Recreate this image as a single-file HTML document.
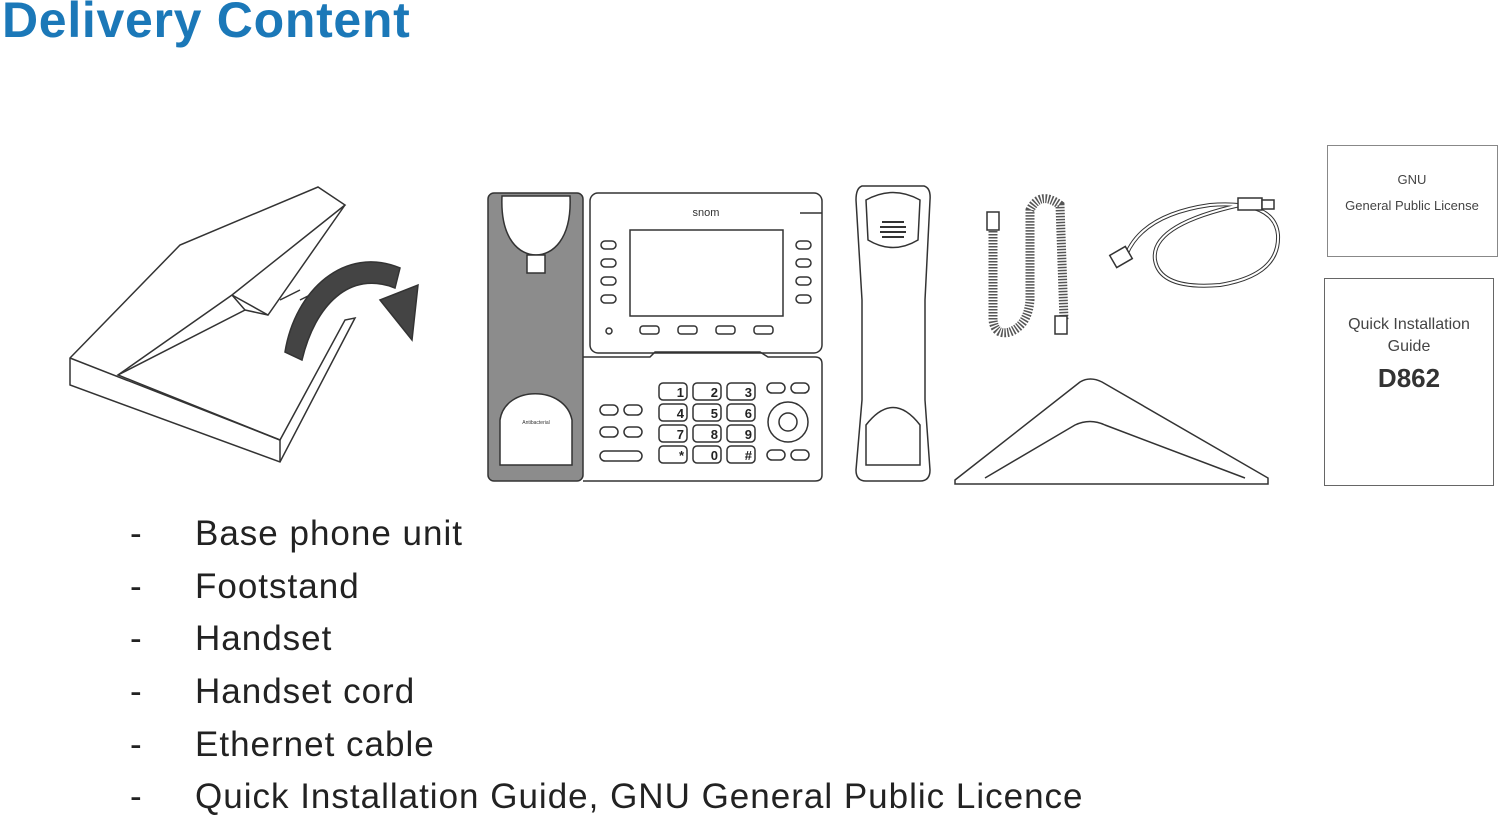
<!DOCTYPE html>
<html><head><meta charset="utf-8"><style>
body{margin:0;width:1500px;height:816px;background:#fff;position:relative;overflow:hidden;font-family:"Liberation Sans",sans-serif}
h1{position:absolute;left:2px;top:-9px;margin:0;font-size:50px;font-weight:bold;color:#1b78b8;letter-spacing:0.7px}
.li{position:absolute;font-size:35px;color:#222;letter-spacing:1px}
.d{position:absolute;left:130px;font-size:35px;color:#222}
svg{position:absolute;left:0;top:0}
</style></head><body>
<h1>Delivery Content</h1>
<svg width="1500" height="816" viewBox="0 0 1500 816" fill="none" stroke="#333" stroke-width="1.5">
<!-- box -->
<polygon points="70,358 180,245 318,187 345,205 232,295 118,375 280,440 345,320 355,318 280,462 70,385" fill="#fff"/>
<polyline points="70,358 280,440 280,462"/>
<polyline points="232,295 245,310 118,375"/>
<polyline points="232,295 268,315 345,205"/>
<line x1="245" y1="310" x2="268" y2="315"/>
<line x1="280" y1="300" x2="300" y2="290"/><line x1="300" y1="300" x2="330" y2="285"/>
<path d="M285,352 C295,290 345,245 400,268 L395,288 C350,270 315,305 302,360 Z" fill="#444"/>
<polygon points="380,300 418,285 412,340" fill="#444"/>
<!-- phone grille -->
<rect x="488" y="193" width="95" height="288" rx="6" fill="#8c8c8c"/>
<path d="M502,196 C500,240 520,255 536,255 C552,255 572,240 570,196 Z" fill="#fff"/>
<rect x="527" y="255" width="18" height="18" fill="#fff"/>
<path d="M500,465 L500,420 C505,385 565,385 572,420 L572,465 Z" fill="#fff"/>
<text x="536" y="424" font-size="5" fill="#333" stroke="none" text-anchor="middle">Antibacterial</text>
<!-- phone panels -->
<rect x="590" y="193" width="232" height="160" rx="8" fill="#fff"/>
<rect x="630" y="230" width="153" height="86" fill="#fff"/>
<text x="706" y="216" font-size="11" fill="#333" stroke="none" text-anchor="middle">snom</text>
<line x1="800" y1="213" x2="822" y2="213"/>
<path d="M583,357 L650,357 L655,352 L760,352 L768,357 L815,357 Q822,357 822,364 L822,475 Q822,481 815,481 L583,481"/>
<g fill="#fff">
<rect x="601" y="241" width="15" height="8" rx="4"/><rect x="601" y="259" width="15" height="8" rx="4"/><rect x="601" y="277" width="15" height="8" rx="4"/><rect x="601" y="295" width="15" height="8" rx="4"/>
<rect x="796" y="241" width="15" height="8" rx="4"/><rect x="796" y="259" width="15" height="8" rx="4"/><rect x="796" y="277" width="15" height="8" rx="4"/><rect x="796" y="295" width="15" height="8" rx="4"/>
<rect x="640" y="326" width="19" height="8" rx="3"/><rect x="678" y="326" width="19" height="8" rx="3"/><rect x="716" y="326" width="19" height="8" rx="3"/><rect x="754" y="326" width="19" height="8" rx="3"/>
<circle cx="609" cy="331" r="3"/>
<rect x="600" y="405" width="18" height="10" rx="5"/><rect x="624" y="405" width="18" height="10" rx="5"/>
<rect x="600" y="427" width="18" height="10" rx="5"/><rect x="624" y="427" width="18" height="10" rx="5"/>
<rect x="600" y="451" width="42" height="10" rx="5"/>
<rect x="767" y="383" width="18" height="10" rx="5"/><rect x="791" y="383" width="18" height="10" rx="5"/>
<rect x="767" y="450" width="18" height="10" rx="5"/><rect x="791" y="450" width="18" height="10" rx="5"/>
<circle cx="788" cy="422" r="20"/><circle cx="788" cy="422" r="9"/>
</g>
<g fill="#fff">
<rect x="659" y="383" width="28" height="17" rx="4"/><rect x="693" y="383" width="28" height="17" rx="4"/><rect x="727" y="383" width="28" height="17" rx="4"/>
<rect x="659" y="404" width="28" height="17" rx="4"/><rect x="693" y="404" width="28" height="17" rx="4"/><rect x="727" y="404" width="28" height="17" rx="4"/>
<rect x="659" y="425" width="28" height="17" rx="4"/><rect x="693" y="425" width="28" height="17" rx="4"/><rect x="727" y="425" width="28" height="17" rx="4"/>
<rect x="659" y="446" width="28" height="17" rx="4"/><rect x="693" y="446" width="28" height="17" rx="4"/><rect x="727" y="446" width="28" height="17" rx="4"/>
</g>
<g fill="#222" stroke="none" font-size="13" font-weight="bold" text-anchor="end">
<text x="684" y="397">1</text><text x="718" y="397">2</text><text x="752" y="397">3</text>
<text x="684" y="418">4</text><text x="718" y="418">5</text><text x="752" y="418">6</text>
<text x="684" y="439">7</text><text x="718" y="439">8</text><text x="752" y="439">9</text>
<text x="684" y="460">*</text><text x="718" y="460">0</text><text x="752" y="460">#</text>
</g>
<!-- handset -->
<path d="M862,186 L924,186 Q931,188 930,200 L925,300 L925,400 L930,470 Q930,481 920,481 L866,481 Q856,481 856,470 L862,400 L862,300 L856,200 Q856,188 862,186 Z" fill="#fff"/>
<path d="M866,200 Q893,185 920,200 L918,240 Q893,255 868,240 Z"/>
<path d="M866,465 L866,425 Q893,390 920,425 L920,465 Z"/>
<g stroke-width="2"><line x1="882" y1="222" x2="904" y2="222"/><line x1="880" y1="227" x2="906" y2="227"/><line x1="880" y1="232" x2="906" y2="232"/><line x1="882" y1="237" x2="904" y2="237"/></g>
<!-- coiled cord -->
<path d="M993,225 L993,320 Q995,336 1010,332 Q1028,325 1030,300 L1030,210 Q1040,190 1060,205 L1064,320" stroke-width="9" stroke="#555" stroke-dasharray="1.5 1.5"/>
<rect x="987" y="212" width="12" height="18" fill="#fff"/><rect x="1055" y="316" width="12" height="18" fill="#fff"/>
<!-- ethernet -->
<path d="M1125,258 Q1140,215 1210,205 Q1275,200 1278,235 Q1280,275 1220,285 Q1160,290 1155,260 Q1150,225 1240,205" stroke-width="4"/>
<path d="M1125,258 Q1140,215 1210,205 Q1275,200 1278,235 Q1280,275 1220,285 Q1160,290 1155,260 Q1150,225 1240,205" stroke-width="2" stroke="#fff"/>
<rect x="1112" y="250" width="18" height="14" fill="#fff" transform="rotate(-30 1121 257)"/>
<rect x="1238" y="198" width="24" height="12" fill="#fff"/><rect x="1262" y="200" width="12" height="9" fill="#fff"/>
<!-- footstand -->
<path d="M955,480 L1080,382 Q1090,376 1102,382 L1268,478 L1268,484 L955,484 Z M985,478 L1075,425 Q1090,418 1105,425 L1245,478" fill="#fff"/>
<!-- docs -->
<rect x="1327.5" y="145.5" width="170" height="111" stroke="#888" stroke-width="1"/>
<rect x="1324.5" y="278.5" width="169" height="207" stroke="#666" stroke-width="1"/>
<g stroke="none" fill="#444" text-anchor="middle" font-family="Liberation Sans, sans-serif">
<text x="1412" y="184" font-size="13">GNU</text>
<text x="1412" y="210" font-size="13">General Public License</text>
<text x="1409" y="329" font-size="16">Quick Installation</text>
<text x="1409" y="351" font-size="16">Guide</text>
<text x="1409" y="387" font-size="26" font-weight="bold" fill="#333">D862</text>
</g>
</svg>
<div class="d" style="top:514px">-</div><div class="li" style="left:195px;top:514px">Base phone unit</div>
<div class="d" style="top:567px">-</div><div class="li" style="left:195px;top:567px">Footstand</div>
<div class="d" style="top:619px">-</div><div class="li" style="left:195px;top:619px">Handset</div>
<div class="d" style="top:672px">-</div><div class="li" style="left:195px;top:672px">Handset cord</div>
<div class="d" style="top:725px">-</div><div class="li" style="left:195px;top:725px">Ethernet cable</div>
<div class="d" style="top:777px">-</div><div class="li" style="left:195px;top:777px">Quick Installation Guide, GNU General Public Licence</div>
</body></html>
